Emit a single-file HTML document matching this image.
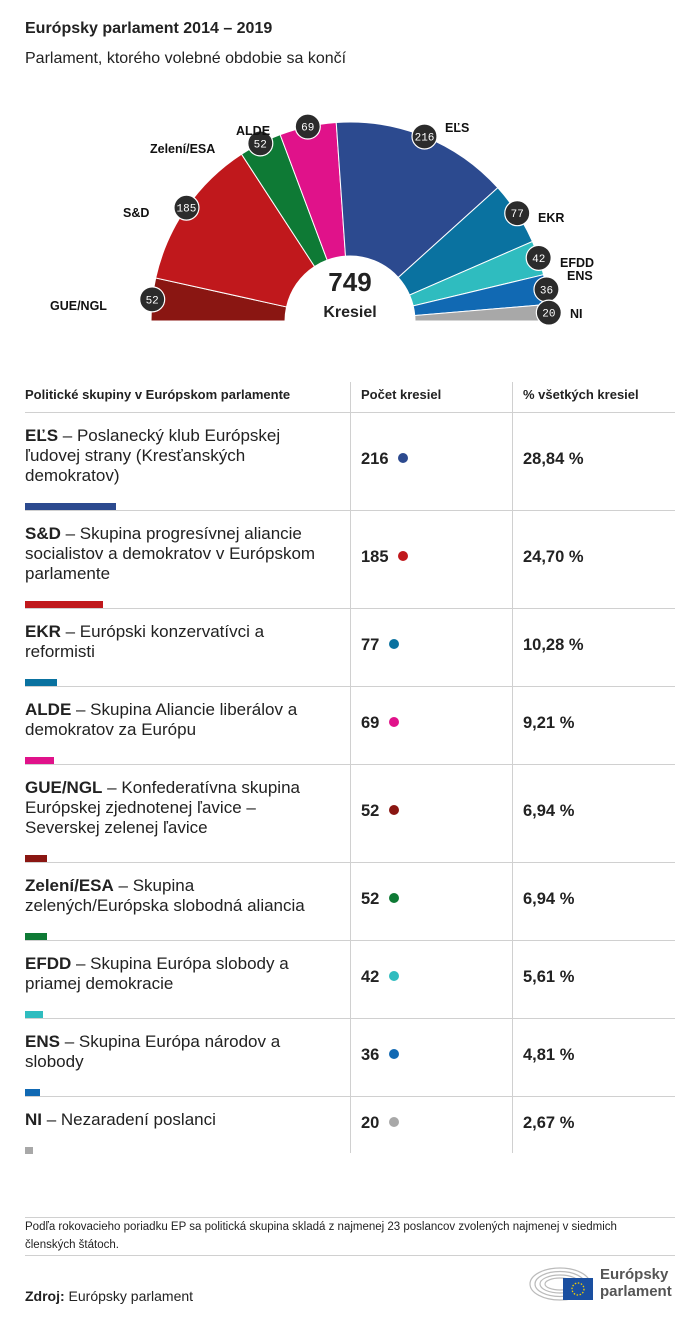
<!DOCTYPE html>
<html><head><meta charset="utf-8"><style>
body{margin:0;background:#fff;font-family:"Liberation Sans",sans-serif;color:#222;}
#wrap{position:relative;width:700px;height:1322px;overflow:hidden;}
.abs{position:absolute;}
.title{left:25px;top:20px;font-size:16px;font-weight:bold;}
.sub{left:25px;top:50px;font-size:16px;}
.hd{font-size:13px;font-weight:bold;top:387px;}
.rowtext{font-size:17px;line-height:20px;width:320px;white-space:nowrap;}
.cnt,.pct{font-size:16.5px;font-weight:bold;}
.hline{height:1px;background:#d0d0d0;}
</style></head><body>
<div id="wrap">
<div class="abs title">Európsky parlament 2014 – 2019</div>
<div class="abs sub">Parlament, ktorého volebné obdobie sa končí</div>
<svg class="abs" style="left:0;top:90px" width="700" height="260" id="chart"></svg>

<div class="abs hd" style="left:25px">Politické skupiny v Európskom parlamente</div>
<div class="abs hd" style="left:361px">Počet kresiel</div>
<div class="abs hd" style="left:523px">% všetkých kresiel</div>
<div class="abs hline" style="left:25px;width:650px;top:412px"></div>
<div class="abs" style="left:350px;top:382px;width:1px;height:771px;background:#d0d0d0"></div>
<div class="abs" style="left:512px;top:382px;width:1px;height:771px;background:#d0d0d0"></div>
<div id="table"></div>

<div class="abs hline" style="left:25px;width:650px;top:1217px"></div>
<div class="abs" style="left:25px;top:1218px;font-size:11.5px;line-height:18px;width:640px">Podľa rokovacieho poriadku EP sa politická skupina skladá z najmenej 23 poslancov zvolených najmenej v siedmich členských štátoch.</div>
<div class="abs hline" style="left:25px;width:650px;top:1255px"></div>
<div class="abs" style="left:25px;top:1288px;font-size:14px"><b>Zdroj:</b> Európsky parlament</div>
<div class="abs" style="left:528px;top:1264px;width:150px;height:40px">
<svg width="70" height="40" style="position:absolute;left:0;top:0">
<g fill="none" stroke="#bbb" stroke-width="1.2">
<ellipse cx="32" cy="20" rx="30" ry="16"/><ellipse cx="32" cy="20" rx="25" ry="12.5"/><ellipse cx="32" cy="20" rx="20" ry="9"/><ellipse cx="32" cy="20" rx="15" ry="6"/></g>
<rect x="35" y="14" width="30" height="22" fill="#1a4fa0"/>
<circle cx="50" cy="25" r="6" fill="none" stroke="#f5d000" stroke-width="1.3" stroke-dasharray="1.5 1.6"/>
</svg>
<div style="position:absolute;left:72px;top:2px;font-size:15px;font-weight:bold;color:#555;line-height:17px">Európsky<br>parlament</div>
</div>
</div>
<script>
const groups=["GUE/NGL","S&D","Zelení/ESA","ALDE","EĽS","EKR","EFDD","ENS","NI"];
const seats=[52,185,52,69,216,77,42,36,20];
const colors=["#8a1612","#c0181c","#0e7a35","#e0128a","#2c4a8f","#0a72a0","#2fbcbf","#1169b3","#a8a8a8"];
const labelPos=[[50,215],[123,122],[150,58],[236,40],[445,37],[538,127],[560,172],[567,185],[570,223]];
const svg=document.getElementById('chart');
const NS="http://www.w3.org/2000/svg";
const cx=350,cy=231,R=199,r0=65;
const total=seats.reduce((a,b)=>a+b,0);
function ang(v){return Math.PI-(v/total)*Math.PI;}
function pt(a,r){return [cx+r*Math.cos(a),cy-r*Math.sin(a)];}
let acc=0;
const bubbles=[];
seats.forEach((s,i)=>{
 const a0=ang(acc),a1=ang(acc+s);
 const p1=pt(a0,R),p2=pt(a1,R),p3=pt(a1,r0),p4=pt(a0,r0);
 const path=document.createElementNS(NS,'path');
 path.setAttribute('d',`M${p1[0]},${p1[1]} A${R},${R} 0 0 1 ${p2[0]},${p2[1]} L${p3[0]},${p3[1]} A${r0},${r0} 0 0 0 ${p4[0]},${p4[1]} Z`);
 path.setAttribute('fill',colors[i]);path.setAttribute('stroke','#fff');path.setAttribute('stroke-width','1');
 
 
 svg.appendChild(path);
 const am=ang(acc+s/2);bubbles.push([pt(am,R),s]);
 acc+=s;
});
bubbles.forEach((b,i)=>{
 const g=document.createElementNS(NS,'g');
 
 
 const c=document.createElementNS(NS,'circle');
 c.setAttribute('cx',b[0][0]);c.setAttribute('cy',b[0][1]);c.setAttribute('r',12.5);
 c.setAttribute('fill','#2b2b2b');c.setAttribute('stroke','#fff');c.setAttribute('stroke-width','1.2');
 g.appendChild(c);
 const t=document.createElementNS(NS,'text');
 t.setAttribute('x',b[0][0]);t.setAttribute('y',b[0][1]+4);t.setAttribute('text-anchor','middle');
 t.setAttribute('fill','#fff');t.setAttribute('font-size','11');t.setAttribute('font-family','Liberation Mono, monospace');
 t.textContent=b[1];g.appendChild(t);svg.appendChild(g);
 const l=document.createElementNS(NS,'text');
 l.setAttribute('x',labelPos[i][0]);l.setAttribute('y',labelPos[i][1]+5);
 l.setAttribute('font-size','12.5');l.setAttribute('font-weight','bold');l.setAttribute('fill','#111');
 
 
 l.textContent=groups[i];svg.appendChild(l);
});
[["749",cy-30,26],["Kresiel",cy-4,16]].forEach(([s,y,fs],k)=>{
 const t=document.createElementNS(NS,'text');
 t.setAttribute('x',cx);t.setAttribute('y',y);t.setAttribute('text-anchor','middle');
 t.setAttribute('font-size',fs);t.setAttribute('font-weight','bold');t.setAttribute('fill','#222');
 
 
 t.textContent=s;svg.appendChild(t);
});
// table
const rowOrder=[4,1,5,3,0,2,6,7,8];
const rowDesc=["Poslanecký klub Európskej<br>ľudovej strany (Kresťanských<br>demokratov)","Skupina progresívnej aliancie<br>socialistov a demokratov v Európskom<br>parlamente","Európski konzervatívci a<br>reformisti","Skupina Aliancie liberálov a<br>demokratov za Európu","Konfederatívna skupina<br>Európskej zjednotenej ľavice –<br>Severskej zelenej ľavice","Skupina<br>zelených/Európska slobodná aliancia","Skupina Európa slobody a<br>priamej demokracie","Skupina Európa národov a<br>slobody","Nezaradení poslanci"];
const rowPct=["28,84 %","24,70 %","10,28 %","9,21 %","6,94 %","6,94 %","5,61 %","4,81 %","2,67 %"];
const rowLines=[3,3,2,2,3,2,2,2,1];
const tbl=document.getElementById('table');
let y=412;
rowOrder.forEach((gi,k)=>{
 const h=rowLines[k]*20+38;
 const tx=document.createElement('div');
 tx.className='abs rowtext';tx.style.left='25px';tx.style.top=(y+14)+'px';
 
 
 tx.innerHTML='<b>'+groups[gi]+'</b> – '+rowDesc[k];
 tbl.appendChild(tx);
 const mid=y+16+rowLines[k]*10;
 const cn=document.createElement('div');
 cn.className='abs cnt';cn.style.left='361px';cn.style.top=(mid-8)+'px';
 
 
 cn.innerHTML=seats[gi]+' <span style="display:inline-block;width:10px;height:10px;border-radius:50%;background:'+colors[gi]+';margin-left:5px;vertical-align:1px"></span>';
 tbl.appendChild(cn);
 const pc=document.createElement('div');
 pc.className='abs pct';pc.style.left='523px';pc.style.top=(mid-8)+'px';
 
 
 pc.textContent=rowPct[k];tbl.appendChild(pc);
 const bar=document.createElement('div');
 bar.className='abs';bar.style.left='25px';bar.style.top=(y+h-7)+'px';bar.style.height='7px';
 bar.style.width=(seats[gi]*0.42)+'px';bar.style.background=colors[gi];
 
 
 tbl.appendChild(bar);
 y+=h;
 if(k<rowOrder.length-1){
  const ln=document.createElement('div');
  ln.className='abs hline';ln.style.left='25px';ln.style.width='650px';ln.style.top=y+'px';
  
  
  tbl.appendChild(ln);
 }
});
</script>
</body></html>
